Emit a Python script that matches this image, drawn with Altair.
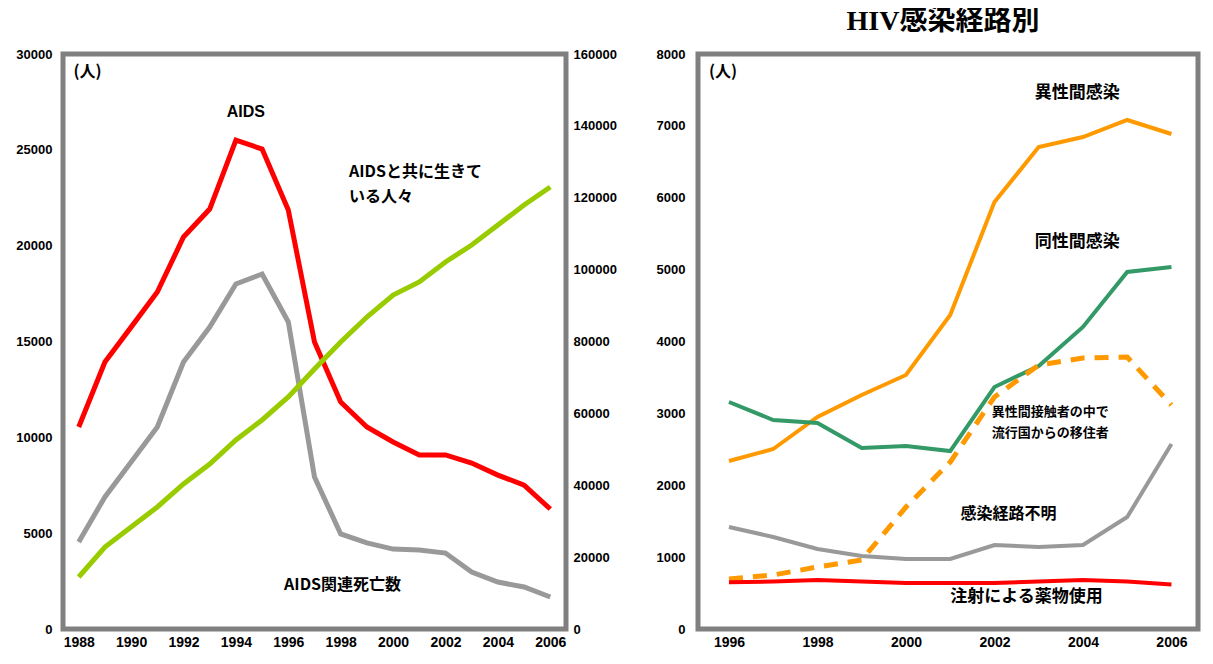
import altair as alt
import pandas as pd

# ---------------- Left chart data ----------------
years_left = list(range(1988, 2007))
aids_cases = [10540, 13930, 15750, 17580, 20450, 21910, 25510, 25040, 21860, 14970,
              11840, 10540, 9760, 9080, 9080, 8660, 8030, 7510, 6260]
aids_deaths = [4540, 6890, 8710, 10540, 13930, 15750, 18000, 18520, 16020, 7930,
               4960, 4490, 4170, 4120, 3960, 2970, 2450, 2190, 1670]
aids_living = [14470, 22820, 28380, 33950, 40350, 45910, 52590, 58160, 64560, 72350,
               79860, 86820, 92940, 96560, 102120, 106850, 112420, 117980, 122990]

# ---------------- Right chart data ----------------
years_right = list(range(1996, 2007))
hetero = [2337, 2504, 2950, 3256, 3534, 4369, 5941, 6706, 6845, 7082, 6887]
msm = [3158, 2908, 2866, 2518, 2546, 2476, 3367, 3659, 4202, 4967, 5037]
hetero_migrant = [696, 751, 863, 960, 1697, 2323, 3228, 3673, 3770, 3784, 3116]
unknown = [1419, 1280, 1113, 1016, 974, 974, 1169, 1141, 1169, 1558, 2574]
idu = [650, 660, 680, 660, 640, 640, 640, 660, 680, 660, 620]

left_ticks = list(range(1988, 2007, 2))
right_ticks = list(range(1996, 2007, 2))

# annotation labels (text, year, value)
left_labels = ["(人)", "AIDS", "AIDSと共に生きて", "いる人々", "AIDS関連死亡数"]
left_label_x = [1987.8, 1994.38, 1998.32, 1998.32, 1995.84]
left_label_y = [29060, 26970, 23840, 22540, 2300]
left_label_align = ["left", "center", "left", "left", "left"]

right_labels = ["(人)", "異性間感染", "同性間感染", "異性間接触者の中で", "流行国からの移住者",
                "感染経路不明", "注射による薬物使用"]
right_label_x = [1995.55, 2002.91, 2002.91, 2001.94, 2001.94, 2001.23, 2001.0]
right_label_y = [7750, 7457, 5384, 3019, 2727, 1600, 445]
right_label_size = [16, 17, 17, 13, 13, 16, 17]

FONT = "Liberation Sans"
JFONT = "Noto Sans CJK JP"
FRAME = alt.ViewBackground(stroke="#808080", strokeWidth=5)

df_cases = pd.DataFrame({"year": years_left, "value": aids_cases})
df_deaths = pd.DataFrame({"year": years_left, "value": aids_deaths})
df_living = pd.DataFrame({"year": years_left, "value": aids_living})

xl_scale = alt.Scale(domain=[1987.4, 2006.6], nice=False, zero=False)
xl = alt.X("year:Q", scale=xl_scale,
           axis=alt.Axis(values=left_ticks, format="d", title=None, grid=False, ticks=False,
                         domain=False, labelPadding=6, labelFontSize=14, labelFontWeight="bold",
                         labelFont=FONT, labelColor="black"))
yl_scale = alt.Scale(domain=[0, 30000], nice=False)
yl_axis = alt.Axis(values=list(range(0, 30001, 5000)), format="d", title=None, grid=False,
                   ticks=False, domain=False, labelPadding=11, labelFontSize=13,
                   labelFontWeight="bold", labelFont=FONT, labelColor="black")
yr_scale = alt.Scale(domain=[0, 160000], nice=False)
yr_axis = alt.Axis(values=list(range(0, 160001, 20000)), format="d", orient="right", title=None,
                   grid=False, ticks=False, domain=False, labelPadding=7, labelFontSize=13,
                   labelFontWeight="bold", labelFont=FONT, labelColor="black")

cases_line = alt.Chart(df_cases).mark_line(color="#FF0000", strokeWidth=5).encode(
    x=xl, y=alt.Y("value:Q", scale=yl_scale, axis=yl_axis))
deaths_line = alt.Chart(df_deaths).mark_line(color="#999999", strokeWidth=5).encode(
    x=xl, y=alt.Y("value:Q", scale=yl_scale, axis=yl_axis))
df_ll = pd.DataFrame({"text": left_labels, "x": left_label_x, "y": left_label_y,
                      "align": left_label_align})
ll_left = alt.Chart(df_ll).transform_filter("datum.align == 'left'").mark_text(
    align="left", baseline="middle", fontSize=16, fontWeight="bold", font=JFONT,
    color="black").encode(
    x=alt.X("x:Q", scale=xl_scale), y=alt.Y("y:Q", scale=yl_scale), text="text:N")
ll_center = alt.Chart(df_ll).transform_filter("datum.align == 'center'").mark_text(
    align="center", baseline="middle", fontSize=16, fontWeight="bold", font=FONT,
    color="black").encode(
    x=alt.X("x:Q", scale=xl_scale), y=alt.Y("y:Q", scale=yl_scale), text="text:N")
left_axis_layer = alt.layer(cases_line, deaths_line, ll_left, ll_center)

living_line = alt.Chart(df_living).mark_line(color="#99CC00", strokeWidth=5).encode(
    x=xl, y=alt.Y("value:Q", scale=yr_scale, axis=yr_axis))

left_chart = alt.layer(left_axis_layer, living_line).resolve_scale(y="independent").properties(
    width=503, height=575, view=FRAME)

# ---------------- Right chart ----------------
xr_scale = alt.Scale(domain=[1995.3, 2006.6], nice=False, zero=False)
xr = alt.X("year:Q", scale=xr_scale,
           axis=alt.Axis(values=right_ticks, format="d", title=None, grid=False, ticks=False,
                         domain=False, labelPadding=6, labelFontSize=14, labelFontWeight="bold",
                         labelFont=FONT, labelColor="black"))
yr2_scale = alt.Scale(domain=[0, 8000], nice=False)
yr2_axis = alt.Axis(values=list(range(0, 8001, 1000)), format="d", title=None, grid=False,
                    ticks=False, domain=False, labelPadding=13, labelFontSize=13,
                    labelFontWeight="bold", labelFont=FONT, labelColor="black")


def series(vals, color, dash=None, width=4):
    df = pd.DataFrame({"year": years_right, "value": vals})
    kw = dict(color=color, strokeWidth=width)
    if dash:
        kw["strokeDash"] = dash
    return alt.Chart(df).mark_line(**kw).encode(
        x=xr, y=alt.Y("value:Q", scale=yr2_scale, axis=yr2_axis))


df_rl = pd.DataFrame({"text": right_labels, "x": right_label_x, "y": right_label_y,
                      "size": right_label_size})
rl = alt.Chart(df_rl).mark_text(align="left", baseline="middle", fontWeight="bold",
                                font=JFONT, color="black").encode(
    x=alt.X("x:Q", scale=xr_scale),
    y=alt.Y("y:Q", scale=yr2_scale), text="text:N",
    size=alt.Size("size:Q", scale=None, legend=None))

title_df = pd.DataFrame({"text": ["HIV感染経路別"]})
title_mark = alt.Chart(title_df).mark_text(
    align="center", baseline="middle", fontSize=28, fontWeight="bold",
    font="Liberation Serif, Noto Sans CJK JP", color="black").encode(
    x=alt.value(245), y=alt.value(-32), text="text:N")

right_chart = alt.layer(
    series(hetero, "#FF9900"),
    series(msm, "#339966"),
    series(hetero_migrant, "#FF9900", dash=[14, 10], width=5),
    series(unknown, "#999999"),
    series(idu, "#FF0000"),
    rl, title_mark,
).properties(width=500, height=575, view=FRAME)

chart = alt.hconcat(left_chart, right_chart, spacing=34).properties(
    padding={"left": 5, "top": -3, "right": 0, "bottom": 0}
).configure_view(stroke="#808080", strokeWidth=5).configure(background="white")

chart.save("out.html", embed_options={"renderer": "svg", "actions": False})
